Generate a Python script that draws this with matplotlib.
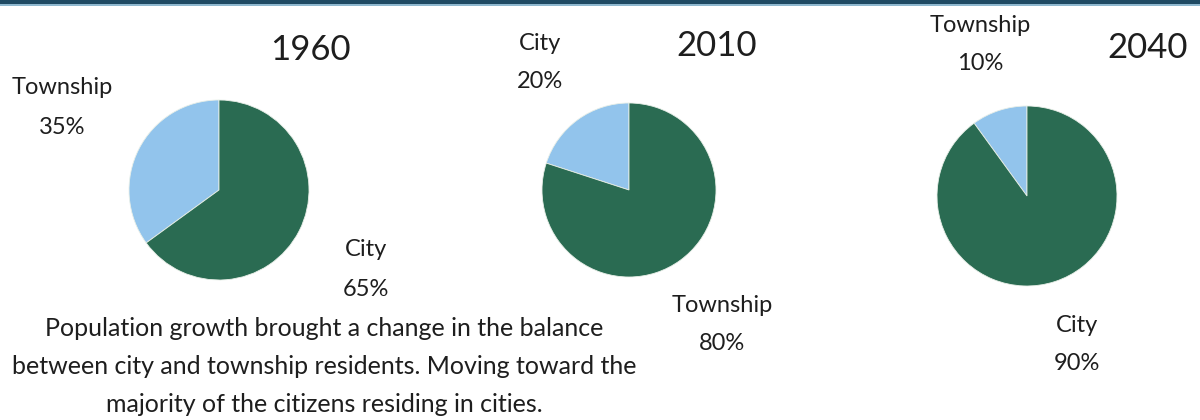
import matplotlib
matplotlib.use('Agg')
import matplotlib.pyplot as plt
from matplotlib.patches import Rectangle

plt.rcParams['font.family'] = ['Lato', 'DejaVu Sans']

# dados
anos = ['1960', '2010', '2040']
rotulos = [['Township', 'City'], ['City', 'Township'], ['Township', 'City']]
valores = [[35, 65], [20, 80], [10, 90]]

cor_clara = '#92c4ec'
cor_escura = '#2a6b52'
cor_texto = '#1e1e1e'

W, H = 1200, 420
fig = plt.figure(figsize=(12, 4.2), dpi=100)
fig.patch.set_facecolor('white')

# faixa no topo
fig.patches.append(Rectangle((0, 1 - 4 / H), 1, 4 / H, transform=fig.transFigure,
                             facecolor='#1f4a63', edgecolor='none'))
fig.patches.append(Rectangle((0, 1 - 6 / H), 1, 2 / H, transform=fig.transFigure,
                             facecolor='#8fb8cf', edgecolor='none'))

# centro e raio das pizzas em pixels
centros = [(219, 190, 90), (629, 190, 87), (1027, 196, 90)]

for (cx, cy, r), v in zip(centros, valores):
    ax = fig.add_axes([(cx - r) / W, (H - cy - r) / H, 2 * r / W, 2 * r / H])
    ax.pie(v, colors=[cor_clara, cor_escura], startangle=90, counterclock=True,
           wedgeprops=dict(linewidth=0.6, edgecolor='#e8efe8'))
    ax.set_xlim(-1, 1)
    ax.set_ylim(-1, 1)
    ax.set_aspect('auto')
    ax.axis('off')

def texto(x, y, s, size=15):
    fig.text(x / W, 1 - y / H, s, ha='center', va='center', fontsize=size, color=cor_texto)

# titulos
texto(310, 50, anos[0], 25)
texto(717, 46, anos[1], 25)
texto(1148, 48, anos[2], 25)

# rotulos das fatias
posicoes = [[(62, 88), (366, 250)], [(540, 43), (722, 305)], [(980, 25), (1077, 325)]]
for rot, v, pos in zip(rotulos, valores, posicoes):
    for nome, val, (x, y) in zip(rot, v, pos):
        texto(x, y, nome, 17)
        texto(x, y + 39, f'{val}%', 17)

# legenda de texto
texto(324, 328, 'Population growth brought a change in the balance', 18)
texto(324, 367, 'between city and township residents. Moving toward the', 18)
texto(324, 405, 'majority of the citizens residing in cities.', 18)

fig.savefig('out.png', dpi=100, facecolor='white')
